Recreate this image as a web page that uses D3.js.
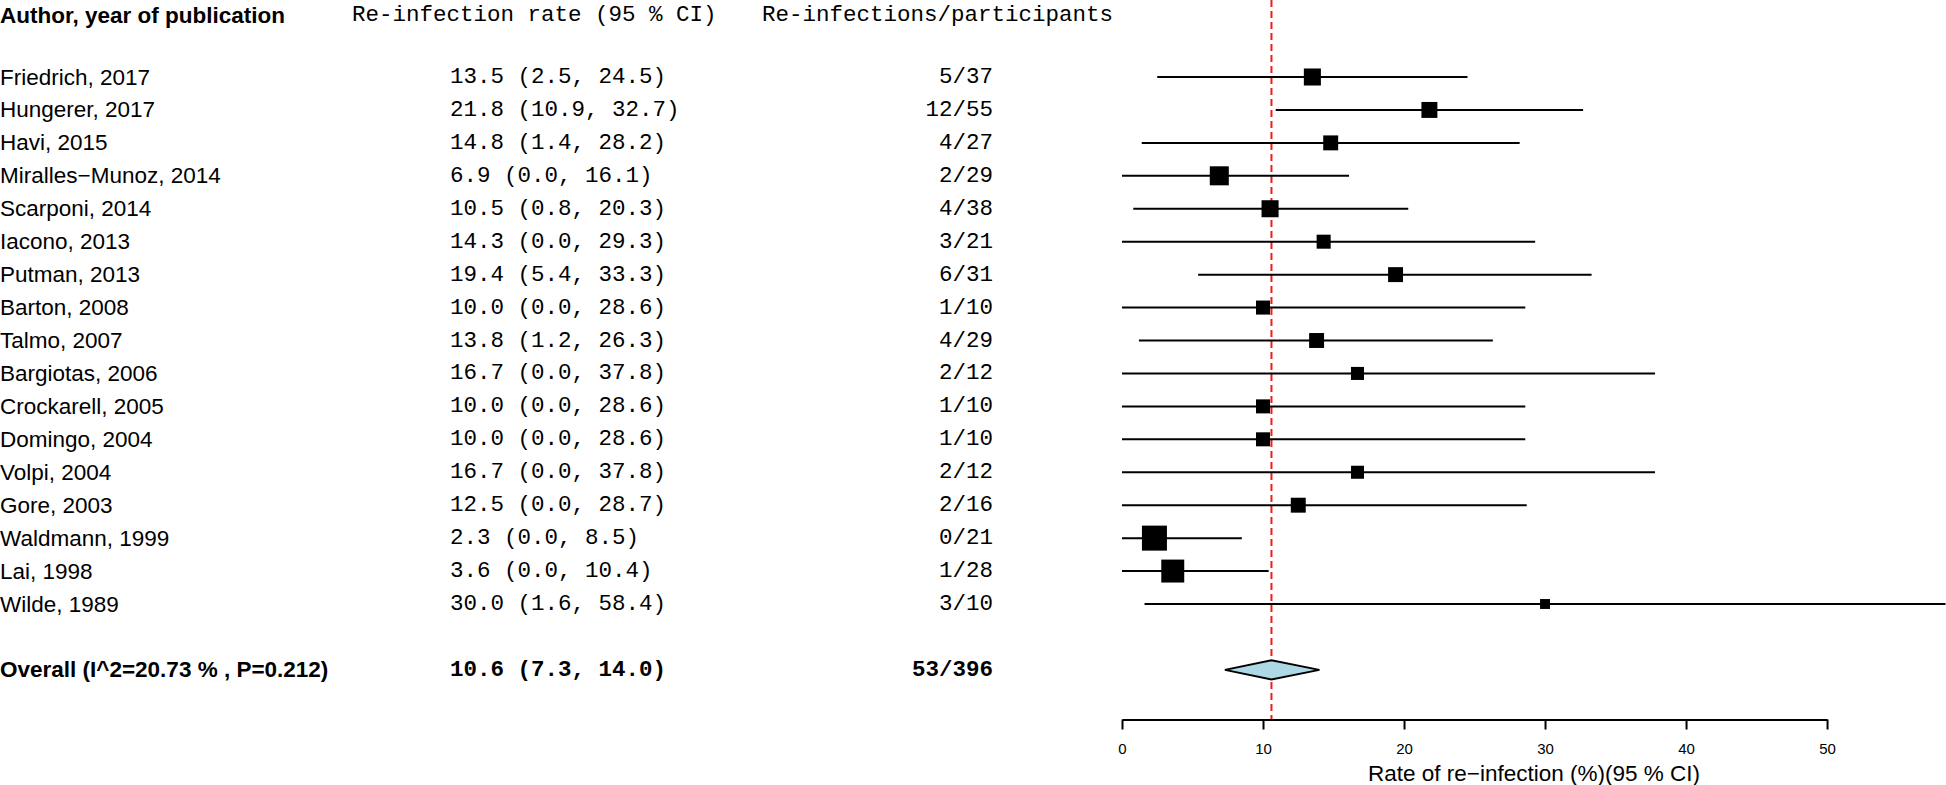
<!DOCTYPE html>
<html>
<head>
<meta charset="utf-8">
<script src="https://cdn.jsdelivr.net/npm/d3@7"></script>
<style>
  body { margin: 0; background: #fff; }
  svg { display: block; }
</style>
</head>
<body>
<div id="chart"></div>
<script>
// Study data.
const studies = ["Friedrich, 2017", "Hungerer, 2017", "Havi, 2015", "Miralles\u2212Munoz, 2014",
  "Scarponi, 2014", "Iacono, 2013", "Putman, 2013", "Barton, 2008", "Talmo, 2007",
  "Bargiotas, 2006", "Crockarell, 2005", "Domingo, 2004", "Volpi, 2004", "Gore, 2003",
  "Waldmann, 1999", "Lai, 1998", "Wilde, 1989"];
const rate = [13.5, 21.8, 14.8, 6.9, 10.5, 14.3, 19.4, 10.0, 13.8, 16.7, 10.0, 10.0, 16.7, 12.5, 2.3, 3.6, 30.0];
const lower = [2.5, 10.9, 1.4, 0.0, 0.8, 0.0, 5.4, 0.0, 1.2, 0.0, 0.0, 0.0, 0.0, 0.0, 0.0, 0.0, 1.6];
const upper = [24.5, 32.7, 28.2, 16.1, 20.3, 29.3, 33.3, 28.6, 26.3, 37.8, 28.6, 28.6, 37.8, 28.7, 8.5, 10.4, 58.4];
const events = [5, 12, 4, 2, 4, 3, 6, 1, 4, 2, 1, 1, 2, 2, 0, 1, 3];
const totals = [37, 55, 27, 29, 38, 21, 31, 10, 29, 12, 10, 10, 12, 16, 21, 28, 10];
// Approximate study weights (%), they set the box sizes.
const weights = [6.5, 5.7, 5.0, 8.1, 6.5, 4.4, 5.0, 4.4, 5.0, 3.8, 4.4, 4.4, 3.8, 5.0, 14.0, 11.8, 2.2];

// Pooled estimate.
const overallLabel = "Overall (I^2=20.73 % , P=0.212)";
const overall = { rate: 10.6, lower: 7.3, upper: 14.0, events: 53, total: 396 };

const headers = ["Author, year of publication", "Re-infection rate (95 % CI)", "Re-infections/participants"];
const ticks = [0, 10, 20, 30, 40, 50];
const axisTitle = "Rate of re\u2212infection (%)(95 % CI)";

// Chart size.
const width = 1946;
const height = 785;

const svg = d3.select("#chart")
  .append("svg")
  .attr("width", width)
  .attr("height", height);

const sans = "Helvetica, Arial, 'Liberation Sans', sans-serif";
const mono = "'Courier New', Courier, 'Liberation Mono', monospace";
const fmt = d3.format(".1f");

// Scales.
const x = d3.scaleLinear().domain([0, 58.4]).range([1122, 1945.5]);
const y = d3.scaleLinear().domain([0, 16]).range([77, 604]);
const box = d3.scaleSqrt().domain([0, 14]).range([0, 25]);
const axisY = 719.5;
const headerY = 15;

// Column headers.
const colX = [0, 352, 762];
svg.append("text")
  .attr("x", colX[0]).attr("y", headerY)
  .attr("dominant-baseline", "central")
  .style("font-family", sans).style("font-size", "22.5px").style("font-weight", "bold")
  .text(headers[0]);
[1, 2].forEach(function(i) {
  svg.append("text")
    .attr("x", colX[i]).attr("y", headerY)
    .attr("dominant-baseline", "central")
    .style("font-family", mono).style("font-size", "22.5px")
    .text(headers[i]);
});

// Study text columns.
const rows = svg.append("g").selectAll("g")
  .data(studies)
  .enter()
  .append("g");

rows.append("text")
  .attr("x", 0)
  .attr("y", function(d, i) { return y(i); })
  .attr("dominant-baseline", "central")
  .style("font-family", sans).style("font-size", "22.5px")
  .text(function(d) { return d; });

rows.append("text")
  .attr("x", 450)
  .attr("y", function(d, i) { return y(i); })
  .attr("dominant-baseline", "central")
  .style("font-family", mono).style("font-size", "22.5px")
  .text(function(d, i) { return fmt(rate[i]) + " (" + fmt(lower[i]) + ", " + fmt(upper[i]) + ")"; });

rows.append("text")
  .attr("x", 993)
  .attr("y", function(d, i) { return y(i); })
  .attr("dominant-baseline", "central")
  .attr("text-anchor", "end")
  .style("font-family", mono).style("font-size", "22.5px")
  .text(function(d, i) { return events[i] + "/" + totals[i]; });

// Overall row text.
svg.append("text")
  .attr("x", 0).attr("y", y(18))
  .attr("dominant-baseline", "central")
  .style("font-family", sans).style("font-size", "22.5px").style("font-weight", "bold")
  .text(overallLabel);
svg.append("text")
  .attr("x", 450).attr("y", y(18))
  .attr("dominant-baseline", "central")
  .style("font-family", mono).style("font-size", "22.5px").style("font-weight", "bold")
  .text(fmt(overall.rate) + " (" + fmt(overall.lower) + ", " + fmt(overall.upper) + ")");
svg.append("text")
  .attr("x", 993).attr("y", y(18))
  .attr("dominant-baseline", "central")
  .attr("text-anchor", "end")
  .style("font-family", mono).style("font-size", "22.5px").style("font-weight", "bold")
  .text(overall.events + "/" + overall.total);

// Dashed reference line at the pooled rate.
svg.append("line")
  .attr("x1", x(overall.rate)).attr("x2", x(overall.rate))
  .attr("y1", 0).attr("y2", axisY)
  .attr("stroke", "#ee1c1c")
  .attr("stroke-width", 2)
  .attr("stroke-dasharray", "7,4");

// Confidence interval lines.
svg.append("g").selectAll("line")
  .data(studies)
  .enter()
  .append("line")
  .attr("x1", function(d, i) { return x(lower[i]); })
  .attr("x2", function(d, i) { return x(upper[i]); })
  .attr("y1", function(d, i) { return y(i); })
  .attr("y2", function(d, i) { return y(i); })
  .attr("stroke", "#000")
  .attr("stroke-width", 2);

// Weighted boxes.
svg.append("g").selectAll("rect")
  .data(studies)
  .enter()
  .append("rect")
  .attr("x", function(d, i) { return x(rate[i]) - box(weights[i]) / 2; })
  .attr("y", function(d, i) { return y(i) - box(weights[i]) / 2; })
  .attr("width", function(d, i) { return box(weights[i]); })
  .attr("height", function(d, i) { return box(weights[i]); })
  .attr("fill", "#000");

// Pooled diamond.
const dy = y(18);
svg.append("path")
  .attr("d", "M" + x(overall.lower) + "," + dy +
    "L" + x(overall.rate) + "," + (dy - 9.5) +
    "L" + x(overall.upper) + "," + dy +
    "L" + x(overall.rate) + "," + (dy + 9.5) + "Z")
  .attr("fill", "#add8e6")
  .attr("stroke", "#000")
  .attr("stroke-width", 2);

// X axis from 0 to 50.
const xAxisScale = x.copy().domain([0, 50]).range([x(0), x(50)]);
const axis = svg.append("g")
  .attr("transform", "translate(0," + axisY + ")")
  .call(d3.axisBottom(xAxisScale).tickValues(ticks).tickSize(10).tickSizeOuter(0).tickPadding(14));
axis.select(".domain").attr("stroke-width", 2);
axis.selectAll(".tick line").attr("stroke-width", 2);
axis.selectAll(".tick text")
  .style("font-family", sans).style("font-size", "15px").attr("fill", "#000");

// Axis title.
svg.append("text")
  .attr("x", (x(0) + width) / 2)
  .attr("y", 773)
  .attr("text-anchor", "middle")
  .attr("dominant-baseline", "central")
  .style("font-family", sans).style("font-size", "22.5px")
  .text(axisTitle);
</script>
</body>
</html>
